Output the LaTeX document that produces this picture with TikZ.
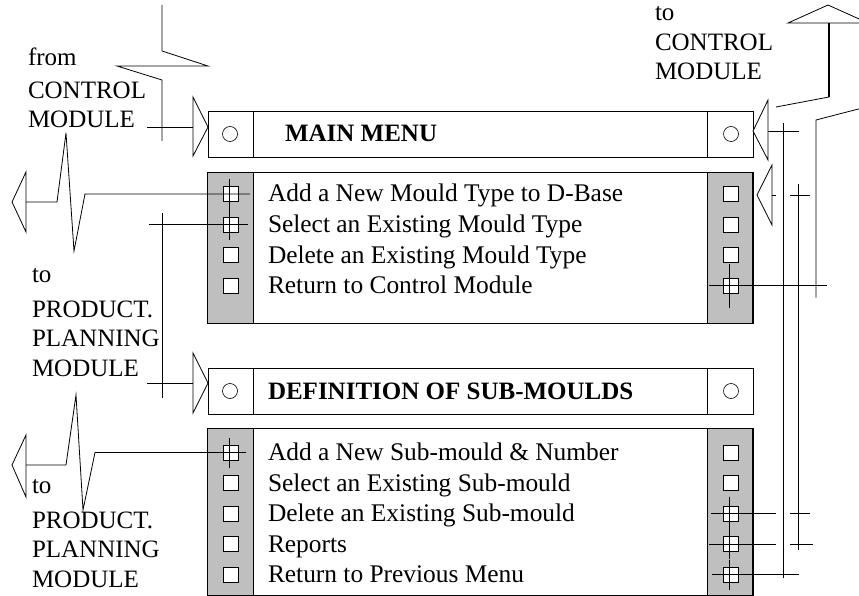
\documentclass[tikz,border=0pt]{standalone}
\usepackage{fontspec}
\setmainfont{Liberation Serif}
\usetikzlibrary{positioning}

\begin{document}
\begin{tikzpicture}[x=1pt,y=-1pt,
            every node/.style={inner sep=0pt, outer sep=0pt},
            menubox/.style={draw, fill=white, minimum width=545pt, line width=0.8pt},
            greycol/.style={draw, fill=black!25, minimum width=45.5pt, line width=0.8pt},
            chkbox/.style={draw, fill=white, minimum size=15pt, line width=0.9pt},
            radio/.style={draw, circle, minimum size=15pt, line width=0.6pt},
            itemtext/.style={anchor=base west, font=\fontsize{25.4}{30}\selectfont},
            headtext/.style={anchor=base west, font=\fontsize{25}{30}\selectfont\bfseries},
            sidetext/.style={align=left, anchor=base west, font=\fontsize{25}{29.5}\selectfont},
            tri/.style={draw, fill=white, line width=0.8pt},
            wire/.style={line width=0.8pt}
        ]
        \useasboundingbox (0,0) rectangle (859,596);
        \clip (0,0) rectangle (859,596);

        % main menu
        \node[menubox, minimum height=46pt] (mainhead) at (480.5,134) {};
        \draw (253,111) -- (253,157) (707,111) -- (707,157);
        \node[radio] (mainL) at (230,134) {};
        \node[radio] (mainR) at (731,134) {};
        \node[headtext] (mainT) at (285,142) {MAIN MENU};

        \node[menubox, minimum height=151pt] (mainpanel) at (480.5,247.5) {};
        \node[greycol, minimum height=151pt] at (230.5,247.5) {};
        \node[greycol, minimum height=151pt] at (730,247.5) {};
        \foreach \t [count=\i] in {Add a New Mould Type to D-Base, Select an Existing Mould Type,
                                   Delete an Existing Mould Type, Return to Control Module} {
            \node[chkbox] (mL\i) at (231,163.5+30.5*\i) {};
            \node[chkbox] (mR\i) at (731,163.5+30.5*\i) {};
            \node[itemtext] (mT\i) at (268,171.5+30.5*\i) {\t};
        }

        % sub-moulds menu
        \node[menubox, minimum height=46pt] (subhead) at (480.5,391) {};
        \draw (253,368) -- (253,414) (707,368) -- (707,414);
        \node[radio] (subL) at (230,391) {};
        \node[radio] (subR) at (731,391) {};
        \node[headtext] (subT) at (268,399) {DEFINITION OF SUB-MOULDS};

        \node[menubox, minimum height=166.5pt] (subpanel) at (480.5,511.75) {};
        \node[greycol, minimum height=166.5pt] at (230.5,511.75) {};
        \node[greycol, minimum height=166.5pt] at (730,511.75) {};
        \foreach \t [count=\i] in {Add a New Sub-mould \& Number, Select an Existing Sub-mould,
                                   Delete an Existing Sub-mould, Reports, Return to Previous Menu} {
            \node[chkbox] (sL\i) at (231,422+30.5*\i) {};
            \node[chkbox] (sR\i) at (731,422+30.5*\i) {};
            \node[itemtext] (sT\i) at (268,430+30.5*\i) {\t};
        }

        % labels (base = last line)
        \node[sidetext] (lblFrom) at (28,128) {from\\[3pt]CONTROL\\MODULE};
        \node[sidetext] (lblTo) at (655,80) {to\\CONTROL\\MODULE};
        \node[sidetext] (lblPPa) at (32,376) {to\\[5pt]PRODUCT.\\PLANNING\\MODULE};
        \node[sidetext] (lblPPb) at (32,587) {to\\[5pt]PRODUCT.\\PLANNING\\MODULE};

        % arrow heads
        \draw[tri] (193,97) -- (208,127) -- (193,156) -- cycle;
        \coordinate (inMain) at (193,127);
        \draw[tri] (193,353) -- (208,383) -- (193,413) -- cycle;
        \coordinate (inSub) at (193,383);
        \draw[tri] (768,100) -- (753,131) -- (768,160) -- cycle;
        \coordinate (backMain) at (768,131);
        \draw[tri] (772,165) -- (757,195) -- (772,225) -- cycle;
        \coordinate (backPanel) at (772,195);
        \draw[tri] (26,172) -- (12,202) -- (26,232) -- cycle;
        \coordinate (outPPa) at (26,202);
        \draw[tri] (26,435) -- (12,465) -- (26,497) -- cycle;
        \coordinate (outPPb) at (26,465);
        \draw[tri] (788,23) -- (828,5) -- (868,23) -- cycle;
        \coordinate (outCtrl) at (829,23);

        % from control module
        \coordinate (cA) at (162,127);
        \draw[wire, shorten >=-14pt] (162,5) -- (162,51) -- (208,66) -- (117,66) -- (162,80) -- (cA);
        \draw[wire, shorten <=-15pt] (cA) -- (inMain);

        % to product planning
        \draw[wire] ([xshift=19pt]mL1.center) -- (85,194) -- (74,251) -- (66,133) -- (57,202) -- (outPPa);
        \draw[wire] ([xshift=15pt]sL1.center) -- (95,452.5) -- (83,510) -- (76,395) -- (66,465) -- (outPPb);

        % select mould type -> sub-moulds
        \coordinate (cB1) at (162,224.5);
        \coordinate (cB2) at (162,383);
        \draw[wire, shorten <=-17pt, shorten >=-13pt] (mL2.center) -- (cB1);
        \draw[wire, shorten <=-11pt, shorten >=-15pt] (cB1) -- (cB2);
        \draw[wire, shorten <=-15pt] (cB2) -- (inSub);

        % delete / reports -> back to panel
        \coordinate (cC1) at (798,513.5);
        \coordinate (cC2) at (798,544);
        \coordinate (cC3) at (798,195);
        \draw[wire, shorten <=-20pt, shorten >=-12pt] (sR3.center) -- (cC1);
        \draw[wire, shorten <=-22pt, shorten >=-15pt] (sR4.center) -- (cC2);
        \draw[wire, shorten <=-6pt, shorten >=-11pt] (cC2) -- (cC3);
        \draw[wire, shorten <=-12pt] (cC3) -- (backPanel);

        % previous menu -> main menu
        \coordinate (cD1) at (783,574.5);
        \coordinate (cD2) at (783,131);
        \draw[wire, preaction={draw=white, line width=14pt}, shorten <=-3.5pt, shorten >=-8pt] (cD1) -- (cD2);
        \draw[wire, shorten <=-19pt, shorten >=-16pt] (sR5.center) -- (cD1);
        \draw[wire, shorten <=-16pt] (cD2) -- (backMain);

        % return -> control module
        \coordinate (cE1) at (816,285.5);
        \draw[wire, shorten <=-22pt, shorten >=-11pt] (mR4.center) -- (cE1);
        \draw[wire, shorten <=-12pt] (cE1) -- (816,120) -- (870,106);
        \draw[wire] (776,107) -- (829,97);
        \draw[line width=1.8pt] (829,97) -- (outCtrl);

        % link marks
        \foreach \b/\l in {mL1/15, mL2/15, mR4/22, sL1/15, sR3/17, sR4/15, sR5/15}
            \draw[wire] ([xshift=-2pt]\b.center) ++(0,-\l) -- ++(0,2*\l);
\end{tikzpicture}
\end{document}
